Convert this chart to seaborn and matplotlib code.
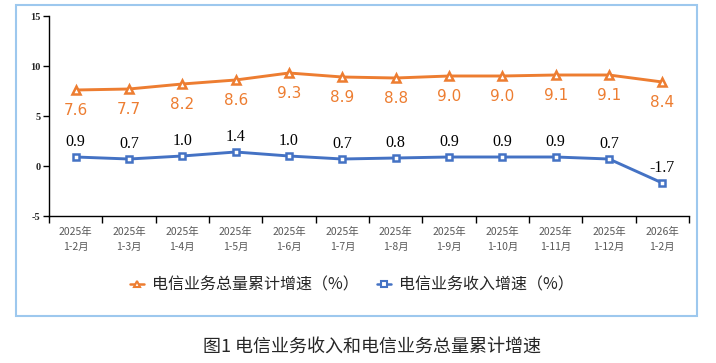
import matplotlib
matplotlib.use("Agg")
import matplotlib.pyplot as plt
import seaborn as sns
import pandas as pd
import numpy as np
from matplotlib.patches import Rectangle
from matplotlib.lines import Line2D

sns.set_style("white")
plt.rcParams['font.family'] = ['Noto Sans CJK SC', 'DejaVu Sans']

categories = ["2025年\n1-2月", "2025年\n1-3月", "2025年\n1-4月", "2025年\n1-5月", "2025年\n1-6月",
              "2025年\n1-7月", "2025年\n1-8月", "2025年\n1-9月", "2025年\n1-10月", "2025年\n1-11月",
              "2025年\n1-12月", "2026年\n1-2月"]
volume_growth = [7.6, 7.7, 8.2, 8.6, 9.3, 8.9, 8.8, 9.0, 9.0, 9.1, 9.1, 8.4]
revenue_growth = [0.9, 0.7, 1.0, 1.4, 1.0, 0.7, 0.8, 0.9, 0.9, 0.9, 0.7, -1.7]
yticks = [-5, 0, 5, 10, 15]
name_volume = "电信业务总量累计增速（%）"
name_revenue = "电信业务收入增速（%）"
caption = "图1 电信业务收入和电信业务总量累计增速"

orange = "#ED7D31"
blue = "#4472C4"

x = np.arange(len(categories))
df = pd.DataFrame({"x": np.concatenate([x, x]),
                   "v": volume_growth + revenue_growth,
                   "s": [name_volume] * len(x) + [name_revenue] * len(x)})

fig = plt.figure(figsize=(7.16, 3.63), dpi=100)
fig.patches.append(Rectangle((16/716, 1-316/363), 681/716, 311/363, transform=fig.transFigure,
                             fill=False, edgecolor="#9DC8EE", linewidth=1.5))
ax = fig.add_axes([49/716, 1-216/363, 640/716, 200/363])

sns.lineplot(data=df, x="x", y="v", hue="s", style="s",
             palette={name_volume: orange, name_revenue: blue},
             markers={name_volume: "^", name_revenue: "s"}, dashes=False,
             linewidth=2.1, markersize=5, markerfacecolor="white", markeredgewidth=1.8,
             ax=ax, legend=False)
for line, c, ms in zip(ax.get_lines(), [orange, blue], [6, 4.6]):
    line.set_markeredgecolor(c)
    line.set_markersize(ms)

for xi, v in zip(x, volume_growth):
    ax.annotate(f"{v:.1f}", (xi, v), xytext=(0, -15), textcoords="offset points",
                ha="center", va="center", color=orange, fontsize=11, family="DejaVu Sans")
for xi, v in zip(x, revenue_growth):
    ax.annotate(f"{v:.1f}", (xi, v), xytext=(0, 11), textcoords="offset points",
                ha="center", va="center", color="black", fontsize=11.5, family="Liberation Serif")

ax.set_xlim(-0.5, len(categories) - 0.5)
ax.set_ylim(-5, 15)
ax.set_yticks(yticks)
ax.set_yticklabels([str(t) for t in yticks], family="Liberation Serif", fontsize=7.5, fontweight="bold")
ax.set_xticks(x)
ax.set_xticklabels(categories, fontsize=7.5, color="#595959", linespacing=1.6)
ax.set_xticks(np.arange(-0.5, len(categories)), minor=True)
ax.tick_params(axis="x", which="major", length=0, pad=8)
ax.tick_params(axis="x", which="minor", length=5, width=1, color="black", direction="out", bottom=True)
ax.tick_params(axis="y", length=4, width=1, color="black", direction="out", left=True, pad=2)
ax.set_xlabel("")
ax.set_ylabel("")
for s in ["top", "right"]:
    ax.spines[s].set_visible(False)
for s in ["left", "bottom"]:
    ax.spines[s].set_color("black")
    ax.spines[s].set_linewidth(1)

handles = [Line2D([], [], color=orange, marker="^", markerfacecolor="white", markeredgecolor=orange,
                  markersize=4.5, markeredgewidth=1.5, linewidth=1.8),
           Line2D([], [], color=blue, marker="s", markerfacecolor="white", markeredgecolor=blue,
                  markersize=4, markeredgewidth=1.5, linewidth=1.8)]
fig.legend(handles, [name_volume, name_revenue], loc="center", bbox_to_anchor=(352/716, 1-285/363),
           ncol=2, frameon=False, fontsize=11.5, handlelength=0.9, handletextpad=0.5,
           columnspacing=1.1, labelcolor="#262626")

fig.text(372/716, 1-347/363, caption, ha="center", va="center", fontsize=13, color="#262626")

fig.savefig("out.png", dpi=100)
